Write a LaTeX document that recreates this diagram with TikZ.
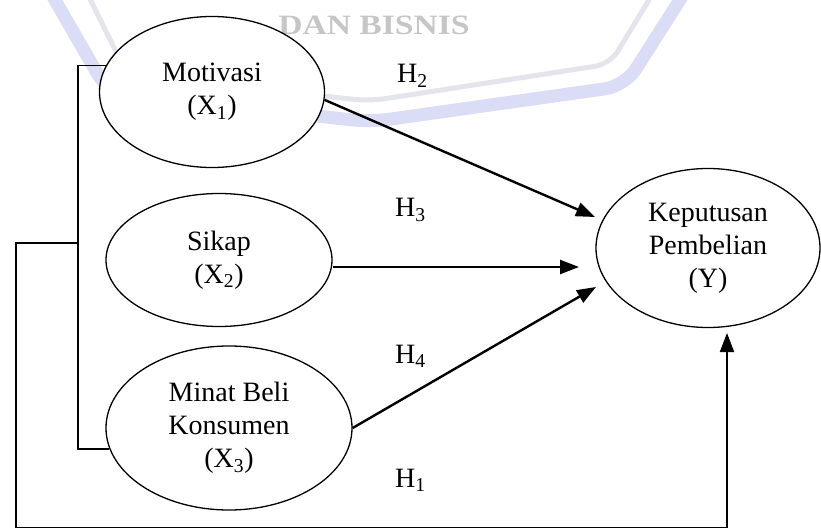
\documentclass[tikz,border=0pt]{standalone}
\usepackage{fontspec}
\setmainfont{Liberation Serif}
\newfontfamily\wmfont[FakeStretch=1.2]{Liberation Serif}
\usetikzlibrary{arrows.meta,shapes.geometric}
\definecolor{wmblue}{HTML}{DADDF5}
\definecolor{wmgrey}{HTML}{E4E4EC}
\definecolor{wmtext}{HTML}{C6C6C6}
\begin{document}
\begin{tikzpicture}[x=1pt,y=-1pt,
  var/.style={ellipse, draw, line width=1.3pt, fill=white, inner sep=0pt, align=center,
    font=\fontsize{28}{33}\selectfont},
  link/.style={line width=1.7pt},
  arr/.style={line width=2.4pt, -{Triangle[length=19pt,width=14pt]}},
  hyp/.style={anchor=base west, inner sep=0pt, font=\fontsize{28}{33}\selectfont}]
\useasboundingbox (0,0) rectangle (821,529);
% watermark
\draw[wmgrey, line width=5pt, rounded corners=15pt] (88,-5) -- (128,76) -- (370,101) -- (610,64) -- (652,-5);
\draw[wmblue, line width=13pt, rounded corners=20pt] (52,-5) -- (108,92) -- (370,122) -- (625,86) -- (683,-5);
\node[text=wmtext, inner sep=0pt, anchor=base, font=\wmfont\bfseries\fontsize{28}{28}\selectfont] (wm) at (374,35) {DAN BISNIS};
% variables
\node[var, minimum width=225pt, minimum height=151pt] (x1) at (212,92) {Motivasi\\(X\textsubscript{1})};
\node[var, minimum width=226pt, minimum height=133pt] (x2) at (219,260) {Sikap\\(X\textsubscript{2})};
\node[var, minimum width=246pt, minimum height=164pt] (x3) at (229,428) {Minat Beli\\Konsumen\\(X\textsubscript{3})};
\node[var, minimum width=224pt, minimum height=159pt] (y) at (708,248) {Keputusan\\Pembelian\\(Y)};
% hypothesis labels
\node[hyp] (h2) at (397,83) {H\textsubscript{2}};
\node[hyp] (h3) at (395,217) {H\textsubscript{3}};
\node[hyp] (h4) at (395,363) {H\textsubscript{4}};
\node[hyp] (h1) at (395,487) {H\textsubscript{1}};
% coordinates
\coordinate (j1) at (78,243);
\coordinate (j0) at (16,243);
\coordinate (c1) at (16,527.5);
\coordinate (t1) at (595,217);
\coordinate (t2) at (579,267);
\coordinate (t3) at (596,287);
\coordinate (t4) at (727,333);
% bracket
\draw[link] (x1.166) -- (x1.166 -| j1) -- (x3.190 -| j1) -- (x3.190);
% arrows
\draw[arr] (x1.-4) -- (t1);
\draw[arr] (x2.east |- t2) -- (t2);
\draw[arr] (x3.east) -- (t3);
\draw[arr, line width=1.9pt] (j1) -- (j0) -- (c1) -| (t4);
\end{tikzpicture}
\end{document}
